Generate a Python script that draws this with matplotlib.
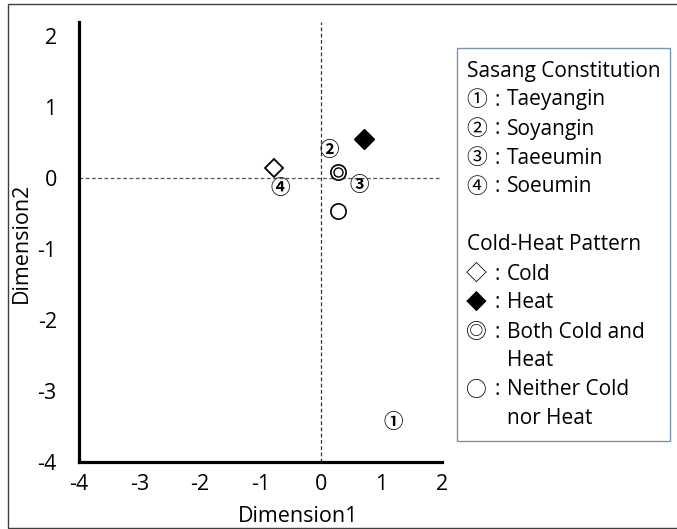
import matplotlib.pyplot as plt
from matplotlib.patches import Rectangle

# 字体: 圆圈数字用 CJK 字体补
FONTS = ['Open Sans', 'Noto Sans CJK SC', 'DejaVu Sans']
plt.rcParams['font.family'] = FONTS

# Sasang constitution (circled digits)
constitution_marks = ['①', '②', '③', '④']
constitution_labels = ['Taeyangin', 'Soyangin', 'Taeeumin', 'Soeumin']
constitution_x = [1.19, 0.13, 0.63, -0.68]
constitution_y = [-3.44, 0.39, -0.11, -0.15]

# Cold-heat pattern
pattern_marks = ['◇', '◆', '◎', '○']
pattern_labels = ['Cold', 'Heat', 'Both Cold and\nHeat', 'Neither Cold\nnor Heat']
pattern_x = [-0.78, 0.71, 0.28, 0.28]
pattern_y = [0.14, 0.55, 0.08, -0.46]

x_ticks = [-4, -3, -2, -1, 0, 1, 2]
y_ticks = [-4, -3, -2, -1, 0, 1, 2]

fig = plt.figure(figsize=(6.77, 5.29), dpi=100, facecolor='white')
W, H = 677.0, 529.0

# 外框
fig.patches.append(Rectangle((8 / W, 1 / H), 1.0, (524) / H, transform=fig.transFigure,
                             fill=False, ec='#404040', lw=1.0))

ax = fig.add_axes([79 / W, (H - 462) / H, 363 / W, 440 / H])
ax.set_xlim(-4, 2)
ax.set_ylim(-4, 2.2)
ax.set_xticks(x_ticks)
ax.set_yticks(y_ticks)
ax.set_xticklabels([str(v) for v in x_ticks])
ax.set_yticklabels([str(v) for v in y_ticks])
ax.tick_params(length=0, labelsize=15.5, pad=9)
ax.tick_params(axis='y', pad=16)
for s in ['top', 'right']:
    ax.spines[s].set_visible(False)
for s in ['left', 'bottom']:
    ax.spines[s].set_linewidth(2.3)
    ax.spines[s].set_color('black')

ax.axhline(0, color='#555555', lw=0.9, ls=(0, (3, 2)), zorder=1)
ax.axvline(0, color='#333333', lw=0.9, ls=(0, (3, 2)), zorder=1)

ax.set_xlabel('Dimension1', fontsize=15.5)
ax.xaxis.set_label_coords(0.603, -0.10)
ax.set_ylabel('Dimension2', fontsize=15.5)
ax.yaxis.set_label_coords(-0.13, 0.498)

# cold-heat markers
ax.plot(pattern_x[0], pattern_y[0], 'D', ms=9.5, mfc='white', mec='black', mew=1.3, zorder=3)
ax.plot(pattern_x[1], pattern_y[1], 'D', ms=9.8, mfc='black', mec='black', mew=1.0, zorder=3)
ax.plot(pattern_x[2], pattern_y[2], 'o', ms=11, mfc='white', mec='black', mew=1.2, zorder=3)
ax.plot(pattern_x[2], pattern_y[2], 'o', ms=6.5, mfc='white', mec='black', mew=1.0, zorder=3)
ax.plot(pattern_x[3], pattern_y[3], 'o', ms=11, mfc='white', mec='black', mew=1.2, zorder=3)

# constitution labels
for m, x, y in zip(constitution_marks, constitution_x, constitution_y):
    ax.text(x, y, m, ha='center', va='center', fontsize=14, fontweight='bold',
            family=['Noto Sans CJK SC', 'DejaVu Sans'], zorder=4)

# legend box
fig.patches.append(Rectangle((457 / W, (H - 441) / H), 213 / W, 393 / H,
                             transform=fig.transFigure, fill=False, ec='#7a94b6', lw=1.0))

fs = 15
def put(xp, yp, s, **kw):
    fig.text(xp / W, (H - yp) / H, s, ha='left', va='center', fontsize=fs, **kw)

put(467, 72, 'Sasang Constitution')
row = 100
for m, lab in zip(constitution_marks, constitution_labels):
    put(466, row, m, family=['Noto Sans CJK SC', 'DejaVu Sans'])
    put(494, row, ':')
    put(507, row, lab)
    row += 29

put(467, 245, 'Cold-Heat Pattern')
row = 274
for m, lab in zip(pattern_marks, pattern_labels):
    put(466, row, m, family=['Noto Sans CJK SC', 'DejaVu Sans'])
    put(494, row, ':')
    for i, part in enumerate(lab.split('\n')):
        put(507, row, part)
        if i < len(lab.split('\n')) - 1:
            row += 28.5
    row += 29

fig.savefig('out.png', dpi=100, facecolor='white')
